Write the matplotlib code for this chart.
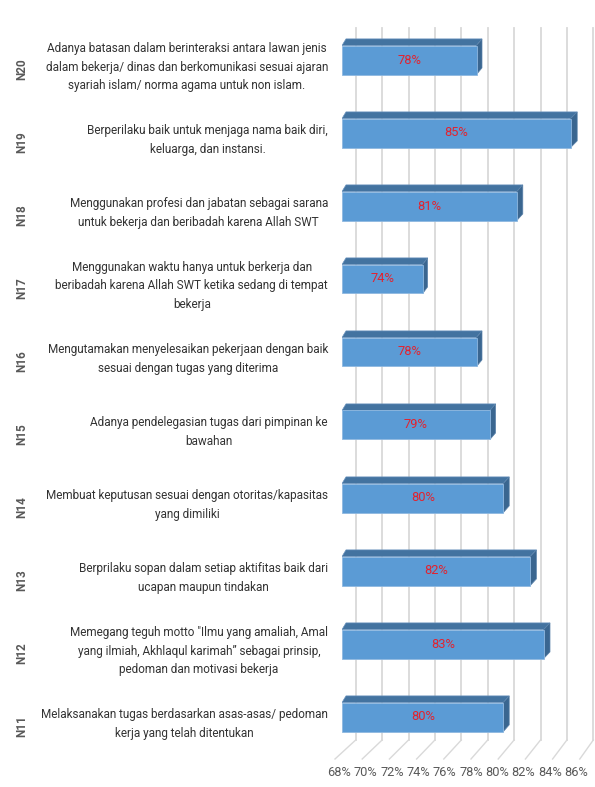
import matplotlib
matplotlib.use("Agg")
import matplotlib.pyplot as plt
from matplotlib.patches import Polygon, Rectangle

codes = ["N11", "N12", "N13", "N14", "N15", "N16", "N17", "N18", "N19", "N20"]
statements = [
    "Melaksanakan tugas berdasarkan asas-asas/ pedoman\nkerja yang telah ditentukan",
    "Memegang teguh motto \"Ilmu yang amaliah, Amal\nyang ilmiah, Akhlaqul karimah\u201d sebagai prinsip,\npedoman dan motivasi bekerja",
    "Berprilaku sopan dalam setiap aktifitas baik dari\nucapan maupun tindakan",
    "Membuat keputusan sesuai dengan otoritas/kapasitas\nyang dimiliki",
    "Adanya pendelegasian tugas dari pimpinan ke\nbawahan",
    "Mengutamakan menyelesaikan pekerjaan dengan baik\nsesuai dengan tugas yang diterima",
    "Menggunakan waktu hanya untuk berkerja dan\nberibadah karena Allah SWT ketika sedang di tempat\nbekerja",
    "Menggunakan profesi dan jabatan sebagai sarana\nuntuk bekerja dan beribadah karena Allah SWT",
    "Berperilaku baik untuk menjaga nama baik diri,\nkeluarga, dan instansi.",
    "Adanya batasan dalam berinteraksi antara lawan jenis\ndalam bekerja/ dinas dan berkomunikasi sesuai ajaran\nsyariah islam/ norma agama untuk non islam.",
]
values = [80, 83, 82, 80, 79, 78, 74, 81, 85, 78]
ticks = [68, 70, 72, 74, 76, 78, 80, 82, 84, 86]

FONT = ["Roboto", "DejaVu Sans"]
FACE = "#5B9BD5"
TOP = "#4373A0"
SIDE = "#3A6690"
GRID = "#D9D9D9"

# pseudo-3D layout, in pixels of the 595x787 canvas
W, H = 595, 787
X0, PX = 342.0, 13.45      # bar front plane: 68% position and px per %
Y0, ROW = 717.0, 73.0      # centre of the first bar and row pitch
XMIN, XMAX = 68, 86


def xd(px):
    return XMIN + (px - X0) / PX


def yd(py):
    return (Y0 - py) / ROW


fig = plt.figure(figsize=(W / 100, H / 100), dpi=100)
y_lo, y_hi = -0.6, 9.6
ax = fig.add_axes([X0 / W, 1 - (Y0 - y_lo * ROW) / H,
                   (XMAX - XMIN) * PX / W, (y_hi - y_lo) * ROW / H])
ax.set_xlim(XMIN, XMAX)
ax.set_ylim(y_lo, y_hi)
ax.axis("off")

# back wall gridlines and floor lines
for t in ticks:
    xb = xd(355.7 + 13.2 * (t - XMIN))
    xf = xd(335.0 + 13.6 * (t - XMIN))
    ax.plot([xb, xb], [yd(740), yd(28)], color=GRID, lw=1.3, clip_on=False, zorder=1)
    ax.plot([xf, xb], [yd(759), yd(740)], color=GRID, lw=1.0, clip_on=False, zorder=1)
    ax.text(xd(339.5 + 13.14 * (t - XMIN)), yd(772), f"{t}%", ha="center", va="center",
            fontsize=9.2, color="#595959", family=FONT)

half = 14.5 / ROW
dy = 6.6 / ROW
for i, v in enumerate(values):
    bl, tp = i - half, i + half
    xr_back = xd(346 + 13.6 * (v - XMIN))
    xl_back = xd(346)
    ax.add_patch(Polygon([(XMIN, tp), (v, tp), (xr_back, tp + dy), (xl_back, tp + dy)],
                         closed=True, facecolor=TOP, edgecolor="#6A93BE", lw=0.5, zorder=3))
    ax.add_patch(Polygon([(v, bl), (v, tp), (xr_back, tp + dy), (xr_back, bl + dy)],
                         closed=True, facecolor=SIDE, edgecolor="#5A82AA", lw=0.5, zorder=3))
    ax.add_patch(Rectangle((XMIN, bl), v - XMIN, tp - bl, facecolor=FACE,
                           edgecolor="#8FB8E0", lw=0.6, zorder=4))
    ax.text((XMIN + v) / 2, i, f"{v}%", ha="center", va="center", fontsize=9.3,
            color="#E3222E", family=FONT, zorder=5)

    ly = i - 7 / ROW
    ax.text(xd(328), ly, statements[i], ha="right", va="center", multialignment="center",
            fontsize=8.5, color="#333333", family=FONT, linespacing=1.55, clip_on=False)
    ax.text(xd(22), ly - 2 / ROW, codes[i], ha="center", va="center", rotation=90,
            fontsize=8.5, fontweight="bold", color="#595959", family=FONT, clip_on=False)

fig.savefig("out.png", dpi=100)
